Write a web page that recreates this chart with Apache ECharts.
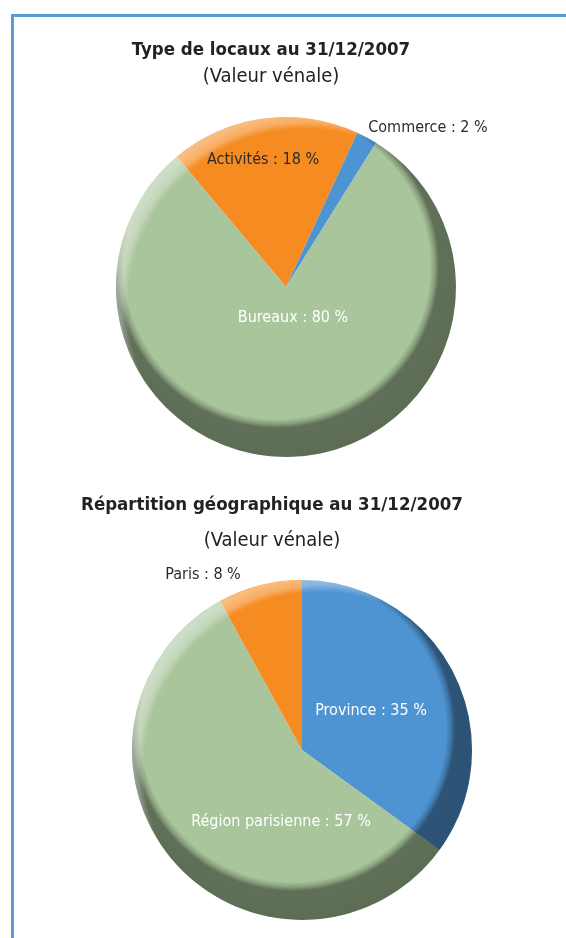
<!DOCTYPE html>
<html lang="fr">
<head>
    <meta charset="UTF-8">
    <title>Patrimoine au 31/12/2007</title>
    <script src="https://cdn.jsdelivr.net/npm/echarts@6/dist/echarts.min.js"></script>
    <style>
        html, body { margin: 0; padding: 0; background: #fff; }
        #main { width: 566px; height: 938px; }
        #cadre { position: absolute; left: 11px; top: 14px; right: 0; bottom: 0;
                 border-left: 3px solid #5b9bd5; border-top: 3px solid #5b9bd5; pointer-events: none; }
    </style>
</head>
<body>
<div id="main"></div>
<div id="cadre"></div>
<script type="text/javascript">
    // données
    var typeNoms = ['Activités', 'Commerce', 'Bureaux'];
    var typeValeurs = [18, 2, 80];
    var geoNoms = ['Province', 'Région parisienne', 'Paris'];
    var geoValeurs = [35, 57, 8];

    var vert = '#a9c59b', orange = '#f58b21', bleu = '#4f94d2';
    var police = '"DejaVu Sans Condensed", "DejaVu Sans", sans-serif';

    // position des étiquettes (centre du texte, en px)
    var posType = [[263, 160], [428, 128], [293, 318]];
    var posGeo = [[371, 711], [281, 822], [203, 575]];

    var myChart = echarts.init(document.getElementById('main'));

    function donnees(noms, valeurs, couleurs, textes) {
        var d = [];
        for (var i = 0; i < noms.length; i++) {
            d.push({
                name: noms[i], value: valeurs[i],
                itemStyle: { color: couleurs[i] },
                label: { color: textes[i] }
            });
        }
        return d;
    }

    // relief : ombre en bas (à droite), reflet en haut à gauche
    function ombre(cx, cy, r) {
        return {
            type: 'radial', x: cx - 9, y: cy - 21, r: r + 30, global: true,
            colorStops: [
                { offset: 0, color: 'rgba(0,0,0,0)' },
                { offset: 0.765, color: 'rgba(0,0,0,0)' },
                { offset: 0.79, color: 'rgba(0,0,0,0.2)' },
                { offset: 0.81, color: 'rgba(0,0,0,0.43)' },
                { offset: 1, color: 'rgba(0,0,0,0.46)' }
            ]
        };
    }
    function reflet(cx, cy, r) {
        return {
            type: 'radial', x: cx + 19, y: cy + 19, r: r + 30, global: true,
            colorStops: [
                { offset: 0, color: 'rgba(255,255,255,0)' },
                { offset: 0.885, color: 'rgba(255,255,255,0)' },
                { offset: 0.92, color: 'rgba(255,255,255,0.3)' },
                { offset: 0.96, color: 'rgba(255,255,255,0.42)' },
                { offset: 1, color: 'rgba(255,255,255,0.45)' }
            ]
        };
    }
    function calque(cx, cy, r, couleur) {
        return {
            type: 'pie', silent: true, z: 3, center: [cx, cy], radius: r,
            label: { show: false }, labelLine: { show: false },
            emphasis: { disabled: true }, tooltip: { show: false },
            data: [{ value: 1, itemStyle: { color: couleur } }]
        };
    }

    var c1 = [286, 287], c2 = [302, 750], rayon = 170;

    myChart.setOption({
        animation: false,
        graphic: [
            { type: 'text', x: 271, y: 50, style: { text: 'Type de locaux au 31/12/2007', font: 'bold 18.5px ' + police, fill: '#222', align: 'center', verticalAlign: 'middle' } },
            { type: 'text', x: 271, y: 77, style: { text: '(Valeur vénale)', font: '20px ' + police, fill: '#222', align: 'center', verticalAlign: 'middle' } },
            { type: 'text', x: 272, y: 505, style: { text: 'Répartition géographique au 31/12/2007', font: 'bold 18.5px ' + police, fill: '#222', align: 'center', verticalAlign: 'middle' } },
            { type: 'text', x: 272, y: 541, style: { text: '(Valeur vénale)', font: '20px ' + police, fill: '#222', align: 'center', verticalAlign: 'middle' } }
        ],
        series: [
            {
                type: 'pie', z: 2, center: c1, radius: rayon, startAngle: 130, clockwise: true,
                label: { show: true, position: 'inside', formatter: '{b} : {c} %', fontFamily: police, fontSize: 16 },
                labelLine: { show: false },
                labelLayout: function (p) {
                    return { x: posType[p.dataIndex][0], y: posType[p.dataIndex][1], align: 'center', verticalAlign: 'middle' };
                },
                data: donnees(typeNoms, typeValeurs, [orange, bleu, vert], ['#2b2b2b', '#2b2b2b', '#fff'])
            },
            calque(c1[0], c1[1], rayon, ombre(c1[0], c1[1], rayon)),
            calque(c1[0], c1[1], rayon, reflet(c1[0], c1[1], rayon)),
            {
                type: 'pie', z: 2, center: c2, radius: rayon, startAngle: 90, clockwise: true,
                label: { show: true, position: 'inside', formatter: '{b} : {c} %', fontFamily: police, fontSize: 16 },
                labelLine: { show: false },
                labelLayout: function (p) {
                    return { x: posGeo[p.dataIndex][0], y: posGeo[p.dataIndex][1], align: 'center', verticalAlign: 'middle' };
                },
                data: donnees(geoNoms, geoValeurs, [bleu, vert, orange], ['#fff', '#fff', '#2b2b2b'])
            },
            calque(c2[0], c2[1], rayon, ombre(c2[0], c2[1], rayon)),
            calque(c2[0], c2[1], rayon, reflet(c2[0], c2[1], rayon))
        ]
    });
</script>
</body>
</html>
